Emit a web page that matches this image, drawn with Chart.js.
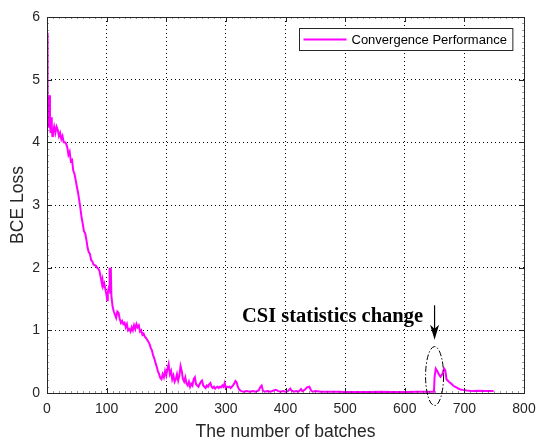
<!DOCTYPE html>
<html>
<head>
<meta charset="utf-8">
<script src="https://cdn.jsdelivr.net/npm/chart.js@4"></script>
<style>
  html, body { margin: 0; padding: 0; background: #fff; }
  #wrap { width: 537px; height: 440px; }
</style>
</head>
<body>
<div id="wrap"><canvas id="loss-chart"></canvas></div>
<script>
// training curve
const batches = [0, 1, 2, 3, 4, 5, 6, 7, 8, 9, 10, 12, 14, 16, 18, 20, 22, 24, 26, 28, 30, 32, 34, 36, 38, 40, 42, 44, 46, 48, 50, 52, 54, 56, 58, 60, 62, 64, 66, 68, 70, 72, 74, 76, 78, 80, 82, 84, 86, 88, 90, 92, 93, 94, 96, 98, 100, 101, 102, 104, 105, 106, 107, 108, 110, 112, 114, 116, 118, 120, 122, 124, 126, 128, 130, 132, 134, 136, 138, 140, 142, 144, 146, 148, 150, 152, 154, 156, 158, 160, 162, 164, 166, 168, 170, 172, 174, 176, 178, 180, 182, 184, 186, 188, 190, 192, 194, 196, 198, 200, 202, 204, 206, 208, 210, 212, 214, 216, 218, 220, 222, 224, 226, 228, 230, 232, 234, 236, 238, 240, 242, 244, 246, 248, 250, 252, 254, 256, 258, 260, 262, 264, 266, 268, 270, 272, 274, 276, 278, 280, 282, 284, 286, 288, 290, 292, 294, 296, 298, 300, 302, 304, 306, 308, 310, 312, 314, 316, 318, 320, 322, 324, 326, 330, 335, 340, 345, 350, 355, 358, 360, 362, 365, 370, 375, 380, 384, 388, 392, 396, 400, 404, 408, 410, 414, 418, 422, 426, 428, 432, 436, 440, 443, 446, 450, 460, 470, 480, 490, 500, 520, 540, 560, 580, 600, 620, 640, 649, 650, 652, 654, 657, 660, 663, 666, 668, 670, 672, 675, 678, 681, 684, 688, 692, 697, 704, 714, 724, 734, 744, 749];
const loss = [5.75, 4.8, 4.25, 4.45, 4.75, 4.3, 4.15, 4.4, 4.25, 4.1, 4.15, 4.25, 4.15, 4.25, 4.2, 4.1, 4.15, 4.05, 4.1, 4.0, 4.0, 3.98, 3.92, 3.8, 3.85, 3.7, 3.72, 3.55, 3.5, 3.4, 3.3, 3.2, 3.08, 2.95, 2.8, 2.7, 2.58, 2.55, 2.45, 2.32, 2.25, 2.22, 2.12, 2.1, 2.05, 2.04, 2.03, 2.0, 1.98, 1.95, 1.85, 1.75, 1.8, 1.7, 1.75, 1.65, 1.55, 1.48, 1.6, 1.7, 2.0, 1.6, 2.0, 1.55, 1.38, 1.3, 1.25, 1.2, 1.3, 1.28, 1.18, 1.12, 1.15, 1.1, 1.12, 1.05, 1.1, 1.0, 1.02, 0.98, 1.05, 1.0, 1.08, 1.02, 1.1, 1.05, 1.08, 0.98, 1.0, 0.93, 0.95, 0.9, 0.88, 0.85, 0.82, 0.78, 0.72, 0.68, 0.6, 0.55, 0.48, 0.42, 0.35, 0.3, 0.24, 0.22, 0.3, 0.25, 0.35, 0.28, 0.38, 0.46, 0.3, 0.35, 0.22, 0.28, 0.18, 0.22, 0.3, 0.2, 0.28, 0.43, 0.35, 0.22, 0.18, 0.25, 0.15, 0.12, 0.18, 0.1, 0.15, 0.12, 0.22, 0.25, 0.14, 0.12, 0.1, 0.14, 0.18, 0.2, 0.12, 0.1, 0.08, 0.12, 0.1, 0.14, 0.16, 0.1, 0.08, 0.1, 0.07, 0.09, 0.1, 0.08, 0.1, 0.09, 0.12, 0.1, 0.16, 0.08, 0.1, 0.09, 0.1, 0.08, 0.1, 0.12, 0.15, 0.19, 0.17, 0.1, 0.06, 0.04, 0.03, 0.02, 0.03, 0.02, 0.03, 0.02, 0.04, 0.1, 0.12, 0.04, 0.02, 0.03, 0.02, 0.04, 0.05, 0.03, 0.02, 0.03, 0.02, 0.03, 0.07, 0.04, 0.02, 0.03, 0.02, 0.06, 0.03, 0.05, 0.09, 0.1, 0.04, 0.02, 0.03, 0.02, 0.02, 0.02, 0.02, 0.015, 0.015, 0.015, 0.02, 0.015, 0.015, 0.02, 0.02, 0.02, 0.25, 0.39, 0.36, 0.3, 0.26, 0.3, 0.39, 0.36, 0.22, 0.2, 0.17, 0.15, 0.12, 0.1, 0.08, 0.06, 0.05, 0.04, 0.03, 0.035, 0.03, 0.03, 0.03];

const xTicks = [0, 100, 200, 300, 400, 500, 600, 700, 800];
const yTicks = [0, 1, 2, 3, 4, 5, 6];

// annotation, in data units
const noteText = 'CSI statistics change';
const notePos = [327, 1.13];
const arrowFrom = [650, 1.40];
const arrowTo = [650, 0.85];
const circleAt = [650, 0.27];

const axisColor = '#262626';

// matlab style box, inward ticks, annotation
const extras = {
    id: 'extras',
    afterDatasetsDraw(chart) {
        const ctx = chart.ctx;
        const a = chart.chartArea;
        const xs = chart.scales.x, ys = chart.scales.y;
        ctx.save();
        ctx.lineWidth = 1;

        // minor ticks
        ctx.strokeStyle = 'rgba(38,38,38,0.45)';
        ctx.beginPath();
        for (let v = 0; v <= 800; v += 10) {
            const px = Math.round(xs.getPixelForValue(v)) + 0.5;
            ctx.moveTo(px, a.bottom); ctx.lineTo(px, a.bottom - 2);
            ctx.moveTo(px, a.top); ctx.lineTo(px, a.top + 2);
        }
        for (let v = 0; v <= 6; v += 0.1) {
            const py = Math.round(ys.getPixelForValue(v)) + 0.5;
            ctx.moveTo(a.left, py); ctx.lineTo(a.left + 2, py);
            ctx.moveTo(a.right, py); ctx.lineTo(a.right - 2, py);
        }
        ctx.stroke();

        // major ticks
        ctx.strokeStyle = axisColor;
        ctx.beginPath();
        xTicks.forEach(v => {
            const px = Math.round(xs.getPixelForValue(v)) + 0.5;
            ctx.moveTo(px, a.bottom); ctx.lineTo(px, a.bottom - 5);
            ctx.moveTo(px, a.top); ctx.lineTo(px, a.top + 5);
        });
        yTicks.forEach(v => {
            const py = Math.round(ys.getPixelForValue(v)) + 0.5;
            ctx.moveTo(a.left, py); ctx.lineTo(a.left + 5, py);
            ctx.moveTo(a.right, py); ctx.lineTo(a.right - 5, py);
        });
        ctx.stroke();

        // frame
        ctx.strokeRect(Math.round(a.left) + 0.5, Math.round(a.top) + 0.5,
            Math.round(a.right - a.left), Math.round(a.bottom - a.top));

        // annotation text
        ctx.fillStyle = '#000';
        ctx.font = 'bold 20.5px "Liberation Serif", "DejaVu Serif", serif';
        ctx.textBaseline = 'alphabetic';
        ctx.textAlign = 'left';
        ctx.fillText(noteText, xs.getPixelForValue(notePos[0]), ys.getPixelForValue(notePos[1]));

        // arrow
        const ax = xs.getPixelForValue(arrowFrom[0]);
        const ay0 = ys.getPixelForValue(arrowFrom[1]);
        const ay1 = ys.getPixelForValue(arrowTo[1]);
        ctx.strokeStyle = '#000';
        ctx.lineWidth = 1.2;
        ctx.beginPath();
        ctx.moveTo(ax, ay0); ctx.lineTo(ax, ay1 - 8);
        ctx.stroke();
        ctx.beginPath();
        ctx.moveTo(ax - 4.5, ay1 - 15);
        ctx.lineTo(ax, ay1 - 11);
        ctx.lineTo(ax + 4.5, ay1 - 15);
        ctx.lineTo(ax, ay1);
        ctx.closePath();
        ctx.fill();

        // dash-dot ellipse round the jump
        ctx.setLineDash([6, 2, 1.5, 2]);
        ctx.lineWidth = 1;
        ctx.beginPath();
        ctx.ellipse(xs.getPixelForValue(circleAt[0]), ys.getPixelForValue(circleAt[1]), 9, 29.5, 0, 0, Math.PI * 2);
        ctx.stroke();
        ctx.restore();
    }
};

new Chart(document.getElementById('loss-chart'), {
    type: 'line',
    data: {
        datasets: [{
            label: 'Convergence Performance',
            data: batches.map((b, i) => ({ x: b, y: loss[i] })),
            borderColor: '#ff00ff',
            backgroundColor: '#ff00ff',
            borderWidth: 2,
            pointRadius: 0,
            tension: 0,
            fill: false
        }]
    },
    options: {
        responsive: true,
        maintainAspectRatio: false,
        animation: false,
        devicePixelRatio: 1,
        layout: { padding: { top: 17, right: 13, left: 0, bottom: 0 } },
        plugins: {
            legend: { display: false },
            tooltip: { enabled: false }
        },
        scales: {
            x: {
                type: 'linear',
                min: 0,
                max: 800,
                afterFit(scale) {
                    scale.height = 47;
                    scale.paddingLeft = 0;
                    scale.paddingRight = 0;
                },
                afterBuildTicks(scale) { scale.ticks = xTicks.map(v => ({ value: v })); },
                grid: {
                    color: '#000',
                    lineWidth: 1,
                    drawTicks: false
                },
                border: { display: false, dash: [1, 3] },
                ticks: {
                    padding: 8,
                    color: axisColor,
                    maxRotation: 0,
                    font: { family: '"Liberation Sans", Arial, sans-serif', size: 14 }
                },
                title: {
                    display: true,
                    text: 'The number of batches',
                    color: axisColor,
                    padding: { top: 0, bottom: -3 },
                    font: { family: '"Liberation Sans", Arial, sans-serif', size: 17.5 }
                }
            },
            y: {
                type: 'linear',
                min: 0,
                max: 6,
                afterFit(scale) {
                    scale.width = 47;
                    scale.paddingTop = 0;
                    scale.paddingBottom = 0;
                },
                afterBuildTicks(scale) { scale.ticks = yTicks.map(v => ({ value: v })); },
                grid: {
                    color: '#000',
                    lineWidth: 1,
                    drawTicks: false
                },
                border: { display: false, dash: [1, 3] },
                ticks: {
                    padding: 7,
                    color: axisColor,
                    font: { family: '"Liberation Sans", Arial, sans-serif', size: 14 }
                },
                title: {
                    display: true,
                    text: 'BCE Loss',
                    color: axisColor,
                    padding: { top: 8, bottom: 0 },
                    font: { family: '"Liberation Sans", Arial, sans-serif', size: 17.5 }
                }
            }
        }
    },
    plugins: [extras, {
        // dotted grid lines
        id: 'dotGrid',
        beforeDraw(chart) {
            ['x', 'y'].forEach(id => {
                chart.scales[id].options.grid.borderDash = [1, 3];
            });
        }
    }, {
        // boxed legend in the top right corner
        id: 'boxLegend',
        afterDraw(chart) {
            const ctx = chart.ctx;
            const a = chart.chartArea;
            const ds = chart.data.datasets[0];
            ctx.save();
            ctx.font = '13px "Liberation Sans", Arial, sans-serif';
            const tw = ctx.measureText(ds.label).width;
            const w = tw + 58, h = 22;
            const x0 = Math.round(a.right - 12 - w) + 0.5;
            const y0 = Math.round(a.top + 11) + 0.5;
            ctx.fillStyle = '#fff';
            ctx.fillRect(x0, y0, w, h);
            ctx.strokeStyle = axisColor;
            ctx.lineWidth = 1;
            ctx.strokeRect(x0, y0, w, h);
            ctx.strokeStyle = ds.borderColor;
            ctx.lineWidth = 2;
            ctx.beginPath();
            ctx.moveTo(x0 + 4, y0 + h / 2);
            ctx.lineTo(x0 + 47, y0 + h / 2);
            ctx.stroke();
            ctx.fillStyle = '#000';
            ctx.textBaseline = 'middle';
            ctx.fillText(ds.label, x0 + 52, y0 + h / 2 + 0.5);
            ctx.restore();
        }
    }]
});
</script>
</body>
</html>
